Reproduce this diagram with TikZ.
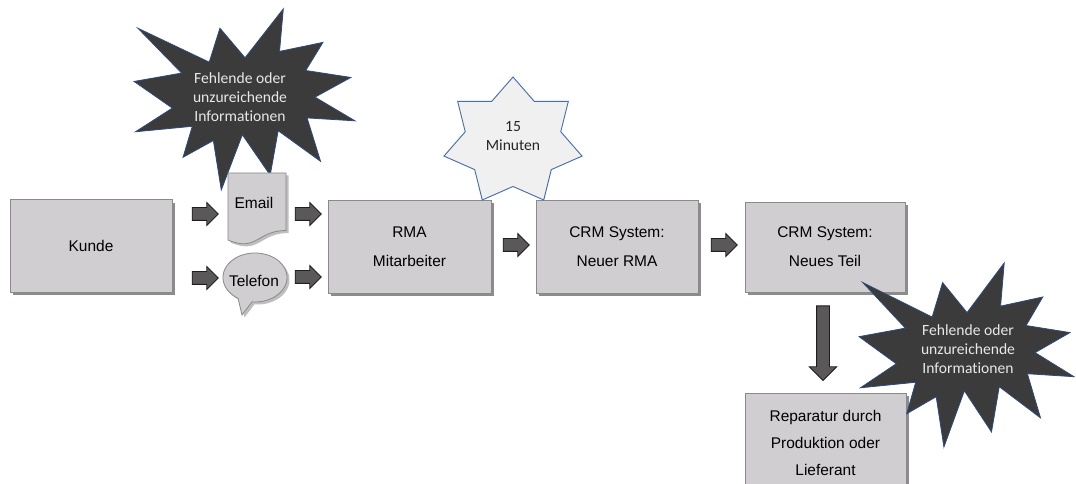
\documentclass[tikz,border=0pt]{standalone}
\usepackage{fontspec}
\setmainfont{Liberation Sans}
\newfontfamily\calfont{Carlito}[Ligatures=NoCommon]
\usetikzlibrary{shapes.arrows,shadows}
\definecolor{boxfill}{HTML}{D0CED0}
\definecolor{boxline}{HTML}{8A8A8A}
\definecolor{arrowfill}{HTML}{5A5858}
\definecolor{arrowline}{HTML}{1E1E1E}
\definecolor{sealfill}{HTML}{3B3B3B}
\definecolor{sealline}{HTML}{2E4A7C}
\definecolor{starfill}{HTML}{F0F0F0}
\definecolor{starline}{HTML}{4A6FA5}
\definecolor{sealtext}{HTML}{E8E8E8}
\begin{document}
\begin{tikzpicture}[x=0.75pt,y=-0.75pt,
  procbox/.style={draw=boxline, fill=boxfill, line width=0.6pt, inner sep=0pt,
    align=center, font=\fontsize{11.6}{21.75}\selectfont,
    minimum width=121.5pt, minimum height=69.5pt,
    drop shadow={shadow xshift=2.2pt, shadow yshift=-2.2pt, fill=black, opacity=0.45}},
  blockarrow/.style={shape=single arrow, draw=arrowline, fill=arrowfill, line width=0.6pt,
    inner xsep=0pt, inner ysep=4.5pt, minimum height=19.5pt,
    single arrow head extend=3.75pt, single arrow tip angle=90},
  sealshape/.style={draw=sealline, fill=sealfill, line width=0.6pt, line join=miter},
  sealtxt/.style={align=center, text=sealtext, font=\calfont\fontsize{11.7}{14.25}\selectfont},
  startxt/.style={align=center, text=black!85, font=\calfont\fontsize{11.7}{14.25}\selectfont},
  smalltxt/.style={font=\fontsize{11.6}{14}\selectfont, inner sep=0pt},
  shade/.style={fill=black, opacity=0.25}]
\useasboundingbox[fill=white] (0,0) rectangle (1076,484);

% process boxes
\node[procbox] (kunde) at (91,246) {Kunde};
\node[procbox, minimum width=122.25pt, minimum height=69.75pt] (rma) at (409.5,246.5) {RMA\\Mitarbeiter};
\node[procbox, minimum height=69.75pt] (crma) at (617,246.5) {CRM System:\\Neuer RMA};
\node[procbox, minimum width=120pt, minimum height=67.5pt] (crmb) at (825,247) {CRM System:\\Neues Teil};
\node[procbox, minimum width=120.75pt, minimum height=76.5pt, anchor=north] (rep) at (825.5,393) {\\[-16pt]Reparatur durch\\[-1pt]Produktion oder\\[-2pt]Lieferant};

% 7-point star "15 Minuten"
\draw[draw=starline, fill=starfill, line width=0.7pt]
  ({513+70.8*cos(90)},{141.7-64.7*sin(90)})
  \foreach \i in {1,...,13} {
    -- ({513+(mod(\i,2)==0 ? 70.8 : 0.692*70.8)*cos(90-\i*360/14)},
        {141.7-(mod(\i,2)==0 ? 64.7 : 0.692*64.7)*sin(90-\i*360/14)})
  } -- cycle;
\node[startxt] (zeit) at (513,136.5) {15\\Minuten};

% explosion 2 (lower right)
\begin{scope}[shift={(858,262)}, xscale=2.16, yscale=1.85]
\draw[sealshape] (50.47,27.34) -- (39.16,11.11) -- (34.34,29.75) -- (2.20,11.11)
  -- (21.91,35.75) -- (0.49,40.36) -- (17.72,55.00) -- (1.13,68.00) -- (26.72,65.00)
  -- (22.54,82.03) -- (36.20,72.82) -- (39.77,100) -- (49.25,69.62) -- (61.80,91.85)
  -- (65.39,67.41) -- (84.48,84.24) -- (78.42,60.39) -- (100,62.00) -- (81.99,48.98)
  -- (98.14,38.16) -- (77.81,34.34) -- (85.56,18.90) -- (66.00,23.86) -- (67.70,0.49) -- cycle;
\end{scope}
\node[sealtxt] (fehlt2) at (968,349) {Fehlende oder\\unzureichende\\Informationen};

% explosion 1 (upper left)
\begin{scope}[shift={(133,8)}, xscale=2.22, yscale=1.82]
\draw[sealshape] (50.47,27.34) -- (39.16,11.11) -- (34.34,29.75) -- (2.20,11.11)
  -- (21.91,35.75) -- (0.49,40.36) -- (17.72,55.00) -- (1.13,68.00) -- (26.72,65.00)
  -- (22.54,82.03) -- (36.20,72.82) -- (39.77,100) -- (49.25,69.62) -- (61.80,91.85)
  -- (65.39,67.41) -- (84.48,84.24) -- (78.42,60.39) -- (100,62.00) -- (81.99,48.98)
  -- (98.14,38.16) -- (77.81,34.34) -- (85.56,18.90) -- (66.00,23.86) -- (67.70,0.49) -- cycle;
\end{scope}
\node[sealtxt] (fehlt1) at (240,97) {Fehlende oder\\unzureichende\\Informationen};

% Email document shape
\fill[shade] (230.5,175.5) -- (288.5,175.5) -- (288.5,233) .. controls (259.5,233) and (259.5,255) .. (230.5,242.5) -- cycle;
\draw[draw=boxline, fill=boxfill, line width=0.6pt]
  (228,173) -- (286,173) -- (286,230.5) .. controls (257,230.5) and (257,252.4) .. (228,240) -- cycle;
\node[smalltxt] (email) at (254,203) {Email};

% Telefon speech bubble
\fill[shade] plot[domain=122:455.4, samples=80] ({257.5+32*cos(\x)},{280+24.5*sin(\x)}) -- (244.5,317.5) -- cycle;
\draw[draw=boxline, fill=boxfill, line width=0.6pt]
  plot[domain=122:455.4, samples=80] ({255+32*cos(\x)},{277.5+24.5*sin(\x)}) -- (242,315) -- cycle;
\node[smalltxt] (telefon) at (254,281) {Telefon};

% block arrows
\node[blockarrow] (a1) at (202,214) {};
\node[blockarrow] (a2) at (202,278) {};
\node[blockarrow] (a3) at (305,214) {};
\node[blockarrow] (a4) at (305,277) {};
\node[blockarrow] (a5) at (513,245) {};
\node[blockarrow] (a6) at (721,245) {};
\node[blockarrow, shape border rotate=270, inner xsep=4.5pt, inner ysep=0pt,
      minimum height=56pt, single arrow head extend=5.5pt] (a7) at (823,340) {};
\end{tikzpicture}
\end{document}
